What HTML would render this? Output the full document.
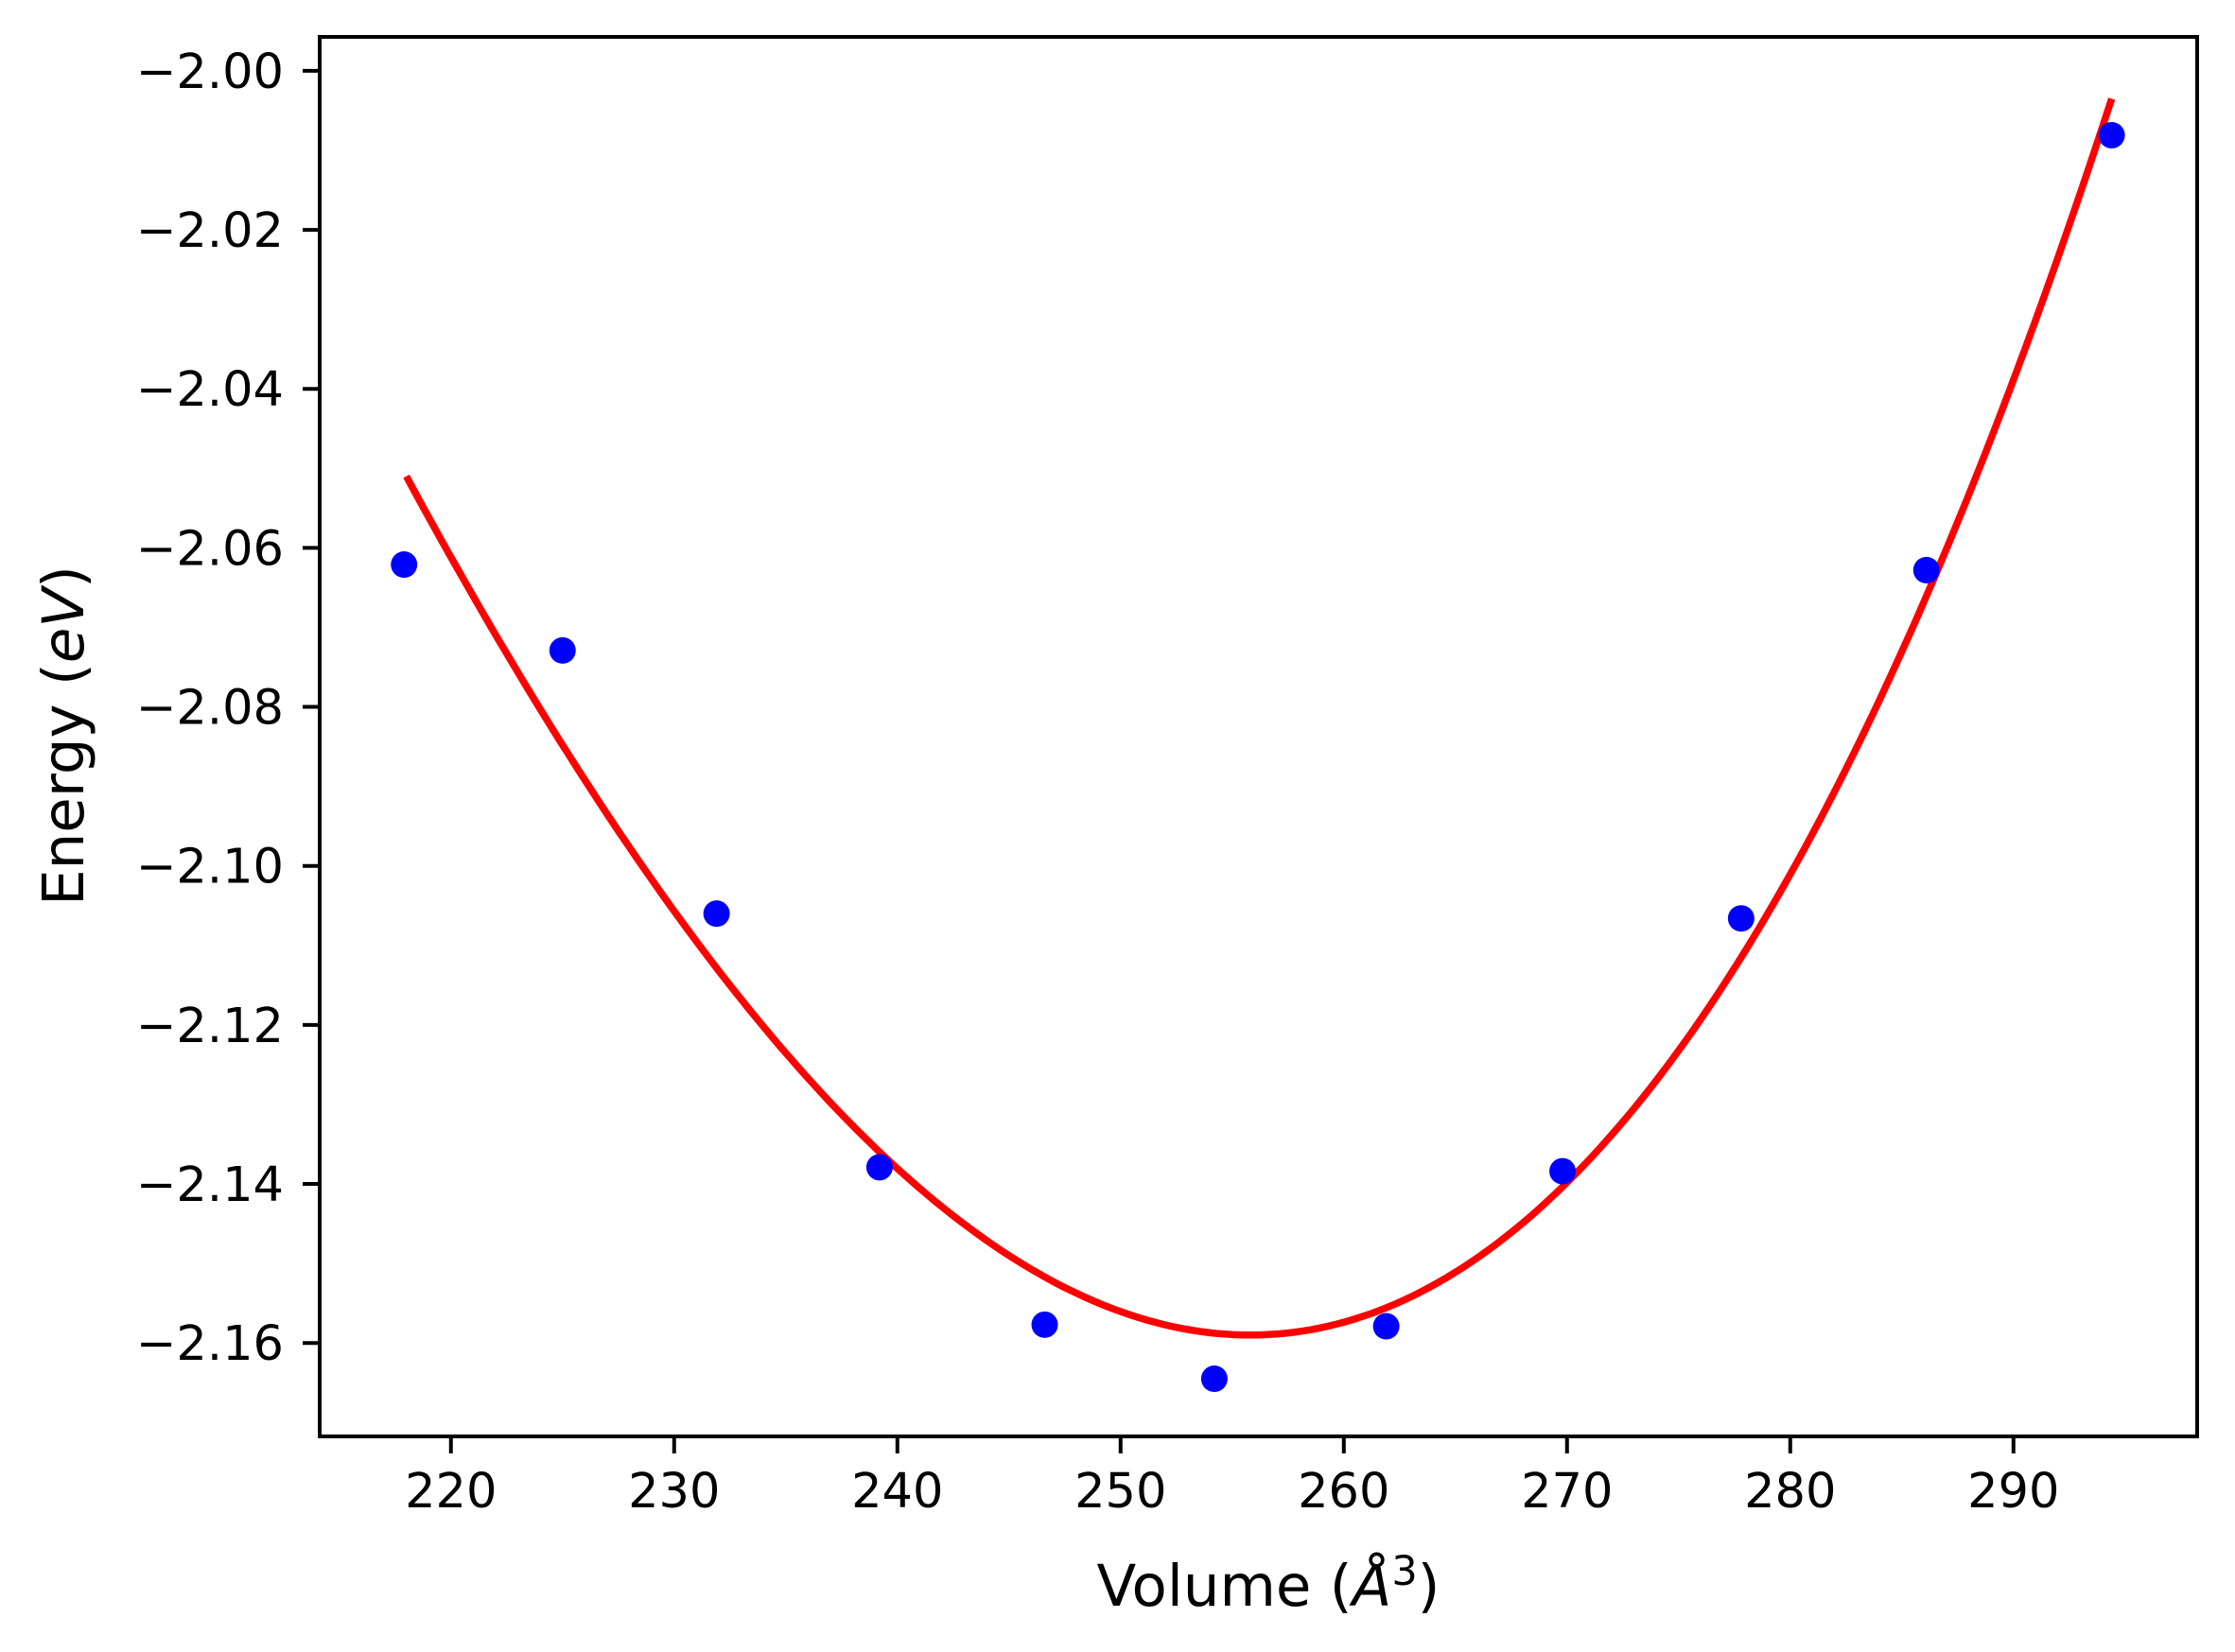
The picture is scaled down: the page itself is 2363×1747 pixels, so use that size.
<!DOCTYPE html>
<html><head><meta charset="utf-8"><style>
html,body{margin:0;padding:0;background:#fff;}
svg{display:block;font-family:"DejaVu Sans","Liberation Sans",sans-serif;}
</style></head><body>
<svg id="chart" width="2363" height="1747" viewBox="0 0 2363 1747" xmlns="http://www.w3.org/2000/svg">
<rect width="2363" height="1747" fill="#fff"/>
<g id="plot"></g>
<g id="axes"></g>
<text x="1341" y="1698" font-size="61" text-anchor="middle">Volume (<tspan font-style="italic">Å</tspan><tspan font-size="43" dy="-22">3</tspan><tspan dy="22">)</tspan></text>
<text transform="translate(88,778) rotate(-90)" font-size="61" text-anchor="middle">Energy (<tspan font-style="italic">eV</tspan>)</text>
</svg>
<script>
const volumes = [217.9, 225.0, 231.9, 239.2, 246.6, 254.2, 261.9, 269.8, 277.8, 286.1, 294.4];
const energies = [-2.0621, -2.0729, -2.1060, -2.1379, -2.1577, -2.1645, -2.1579, -2.1384, -2.1066, -2.0628, -2.0081];
const fitParams = [255.8, -2.159, 8.982e-5, 3.766e-7]; // V0, E0, quadratic, cubic
const fitRange = [218.0, 294.4];
const xTicks = [220, 230, 240, 250, 260, 270, 280, 290];
const yTicks = [-2.00, -2.02, -2.04, -2.06, -2.08, -2.10, -2.12, -2.14, -2.16];

const L = 338, R = 2323, T = 39, B = 1519;
const xMin = 214.12, xMax = 298.23, yMin = -2.17175, yMax = -1.99573;
const xs = v => L + (v - xMin) / (xMax - xMin) * (R - L);
const ys = v => B - (v - yMin) / (yMax - yMin) * (B - T);
const NS = 'http://www.w3.org/2000/svg';
const plot = document.getElementById('plot');
const axes = document.getElementById('axes');
function mk(tag, attrs, parent) {
  const e = document.createElementNS(NS, tag);
  for (const k in attrs) e.setAttribute(k, attrs[k]);
  parent.appendChild(e);
  return e;
}
// fit curve
let d = '';
for (let i = 0; i <= 200; i++) {
  const v = fitRange[0] + (fitRange[1] - fitRange[0]) * i / 200;
  const dv = v - fitParams[0];
  const e = fitParams[1] + fitParams[2] * dv * dv + fitParams[3] * dv * dv * dv;
  d += (i ? 'L' : 'M') + xs(v).toFixed(1) + ',' + ys(e).toFixed(1);
}
const curve = mk('path', {d: d, fill: 'none', stroke: '#ff0000', 'stroke-width': 7.5}, plot);


volumes.forEach((v, i) => {
  const c = mk('circle', {cx: xs(v), cy: ys(energies[i]), r: 14, fill: '#0000ff'}, plot);
  
  
});
// frame
const frame = mk('rect', {x: L, y: T, width: R - L, height: B - T, fill: 'none', stroke: '#000', 'stroke-width': 4}, axes);


xTicks.forEach(t => {
  const x = xs(t);
  const tk = mk('line', {x1: x, x2: x, y1: B, y2: B + 18, stroke: '#000', 'stroke-width': 4}, axes);
  
  
  const lb = mk('text', {x: x, y: B + 75, 'font-size': 51, 'text-anchor': 'middle'}, axes);
  lb.textContent = String(t);
  
  
});
yTicks.forEach(t => {
  const y = ys(t);
  const tk = mk('line', {x1: L - 18, x2: L, y1: y, y2: y, stroke: '#000', 'stroke-width': 4}, axes);
  
  
  const lb = mk('text', {x: L - 38, y: y + 18, 'font-size': 51, 'text-anchor': 'end'}, axes);
  lb.textContent = '\u2212' + Math.abs(t).toFixed(2);
  
  
});
</script>
</body></html>
